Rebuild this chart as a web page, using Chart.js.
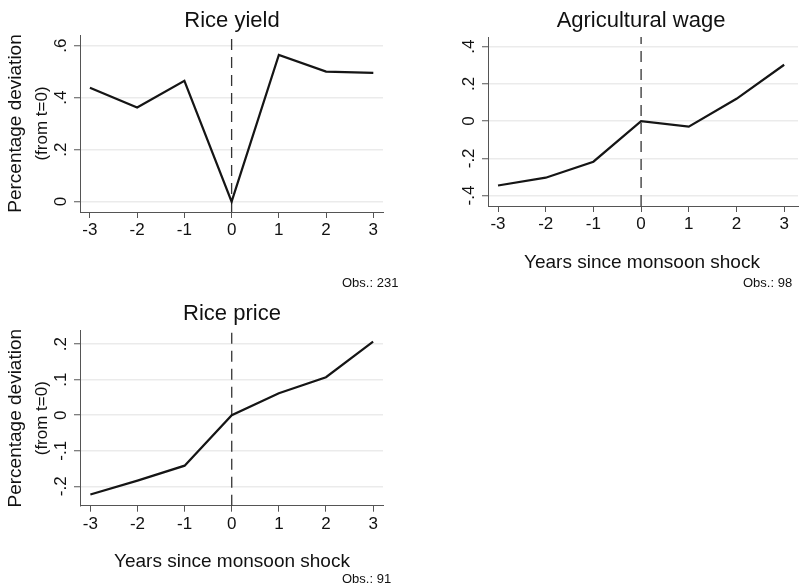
<!DOCTYPE html>
<html>
<head>
<meta charset="utf-8">
<script src="https://cdn.jsdelivr.net/npm/chart.js@4.4.1/dist/chart.umd.min.js"></script>
<style>
    html, body { margin: 0; padding: 0; background: #fff; }
    #wrap { position: relative; width: 799px; height: 588px; overflow: hidden; }
    canvas { position: absolute; }
</style>
</head>
<body>
<div id="wrap">
    <canvas id="c1" width="400" height="300" style="left:0;top:0"></canvas>
    <canvas id="c2" width="399" height="295" style="left:400px;top:0"></canvas>
    <canvas id="c3" width="400" height="298" style="left:0;top:290px"></canvas>
</div>
<script>
// Data
const years = [-3, -2, -1, 0, 1, 2, 3];
const riceYield = [0.438, 0.362, 0.465, 0, 0.564, 0.500, 0.495];
const agWage = [-0.346, -0.304, -0.218, 0, -0.030, 0.120, 0.303];
const ricePrice = [-0.223, -0.184, -0.142, 0, 0.062, 0.107, 0.207];

// Tick labels
const yieldTicks = [0, 0.2, 0.4, 0.6];
const wageTicks = [-0.4, -0.2, 0, 0.2, 0.4];
const priceTicks = [-0.2, -0.1, 0, 0.1, 0.2];

// Axis ranges
const yieldRange = [-0.04, 0.641];
const wageRange = [-0.456, 0.452];
const priceRange = [-0.2547, 0.238];

const FONT = '"Liberation Sans", Arial, Helvetica, sans-serif';
const INK = '#111';
const AXIS = '#555';

// Stata style: ".4", "-.2", "0"
function stataLabel(v) {
    if (v === 0) return '0';
    return String(+v.toFixed(3)).replace(/^(-?)0\./, '$1.');
}

function makePanel(id, cfg) {
    const canvas = document.getElementById(id);
    const W = canvas.width, H = canvas.height;
    const a = cfg.area;

    // texts and rotated y tick labels
    const textPlugin = {
        id: 'texts',
        afterDraw(chart) {
            const ctx = chart.ctx;
            const ys = chart.scales.y;
            const area = chart.chartArea;
            ctx.save();
            ctx.fillStyle = INK;

            // y tick labels, rotated like Stata
            ctx.font = '17px ' + FONT;
            ctx.textAlign = 'center';
            ctx.textBaseline = 'middle';
            cfg.yTicks.forEach(v => {
                const py = ys.getPixelForValue(v);
                ctx.save();
                ctx.translate(area.left - 19, py);
                ctx.rotate(-Math.PI / 2);
                ctx.fillText(stataLabel(v), 0, 0);
                ctx.restore();
            });

            // title
            ctx.textBaseline = 'alphabetic';
            ctx.font = '22px ' + FONT;
            ctx.fillText(cfg.title, cfg.titleAt[0], cfg.titleAt[1]);

            // y axis title
            if (cfg.yTitle) {
                const cy = (area.top + area.bottom) / 2;
                ctx.save();
                ctx.translate(16, cy);
                ctx.rotate(-Math.PI / 2);
                ctx.textBaseline = 'middle';
                ctx.font = '19px ' + FONT;
                ctx.fillText('Percentage deviation', 0, 0);
                ctx.restore();
                ctx.save();
                ctx.translate(42, cy);
                ctx.rotate(-Math.PI / 2);
                ctx.textBaseline = 'middle';
                ctx.font = '17px ' + FONT;
                ctx.fillText('(from t=0)', 0, 0);
                ctx.restore();
            }

            // x axis title
            if (cfg.xTitleAt) {
                ctx.font = '19px ' + FONT;
                ctx.fillText('Years since monsoon shock', cfg.xTitleAt[0], cfg.xTitleAt[1]);
            }

            // note
            ctx.textAlign = 'left';
            ctx.font = '13px ' + FONT;
            ctx.fillText(cfg.obs, cfg.obsAt[0], cfg.obsAt[1]);
            ctx.restore();
        }
    };

    return new Chart(canvas, {
        type: 'line',
        data: {
            datasets: [
                {
                    data: years.map((x, i) => ({ x: x, y: cfg.values[i] })),
                    borderColor: '#151515',
                    borderWidth: 2.2,
                    pointRadius: 0,
                    tension: 0,
                    fill: false
                },
                {
                    data: [{ x: 0, y: cfg.yRange[0] }, { x: 0, y: cfg.yRange[1] }],
                    borderColor: '#333',
                    borderWidth: 1.3,
                    borderDash: [11, 7],
                    pointRadius: 0,
                    fill: false
                }
            ]
        },
        options: {
            responsive: false,
            animation: false,
            events: [],
            layout: {
                padding: { left: 0, top: a.top, right: W - a.right, bottom: 0 }
            },
            plugins: {
                legend: { display: false },
                title: { display: false },
                tooltip: { enabled: false }
            },
            scales: {
                x: {
                    type: 'linear',
                    min: cfg.xRange[0],
                    max: cfg.xRange[1],
                    afterBuildTicks(scale) {
                        scale.ticks = years.map(v => ({ value: v }));
                    },
                    afterFit(scale) { scale.height = H - a.bottom; },
                    grid: {
                        drawOnChartArea: false,
                        tickLength: 6,
                        tickColor: AXIS,
                        tickWidth: 1
                    },
                    border: { display: true, color: AXIS, width: 1 },
                    ticks: {
                        color: INK,
                        padding: 2,
                        font: { family: FONT, size: 17 },
                        callback: v => String(v)
                    }
                },
                y: {
                    type: 'linear',
                    min: cfg.yRange[0],
                    max: cfg.yRange[1],
                    afterBuildTicks(scale) {
                        scale.ticks = cfg.yTicks.map(v => ({ value: v }));
                    },
                    afterFit(scale) { scale.width = a.left; },
                    grid: {
                        color: '#ebebeb',
                        lineWidth: 1.5,
                        tickLength: 6,
                        tickColor: AXIS,
                        tickWidth: 1
                    },
                    border: { display: true, color: AXIS, width: 1 },
                    ticks: { display: false }
                }
            }
        },
        plugins: [textPlugin]
    });
}

makePanel('c1', {
    values: riceYield,
    yTicks: yieldTicks,
    yRange: yieldRange,
    xRange: [-3.21, 3.205],
    area: { left: 80, top: 35, right: 383, bottom: 212 },
    title: 'Rice yield',
    titleAt: [232, 26.5],
    yTitle: true,
    obs: 'Obs.: 231',
    obsAt: [342, 287]
});

makePanel('c2', {
    values: agWage,
    yTicks: wageTicks,
    yRange: wageRange,
    xRange: [-3.21, 3.29],
    area: { left: 88, top: 37, right: 398, bottom: 206 },
    title: 'Agricultural wage',
    titleAt: [241, 26.5],
    yTitle: false,
    xTitleAt: [242, 268],
    obs: 'Obs.: 98',
    obsAt: [343, 287]
});

makePanel('c3', {
    values: ricePrice,
    yTicks: priceTicks,
    yRange: priceRange,
    xRange: [-3.22, 3.21],
    area: { left: 80, top: 40.7, right: 383, bottom: 215.7 },
    title: 'Rice price',
    titleAt: [232, 29.5],
    yTitle: true,
    xTitleAt: [232, 276.5],
    obs: 'Obs.: 91',
    obsAt: [342, 293]
});
</script>
</body>
</html>
